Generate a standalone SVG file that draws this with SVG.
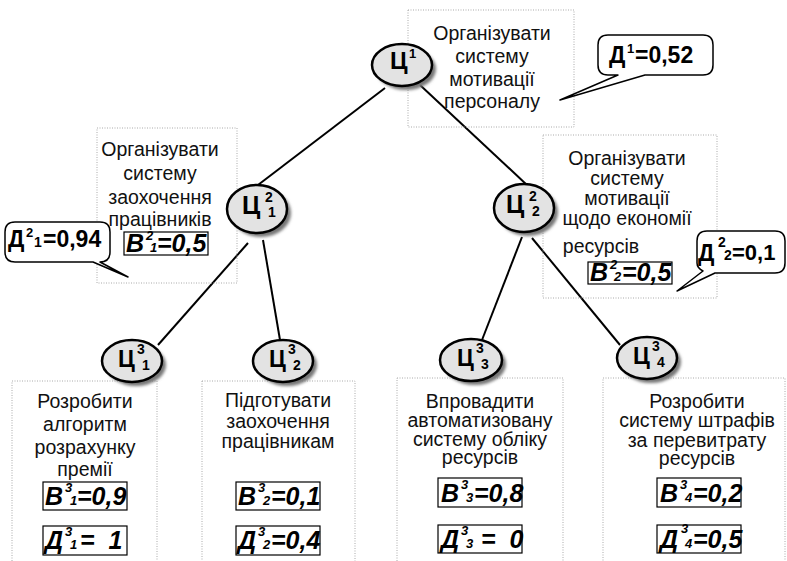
<svg xmlns="http://www.w3.org/2000/svg" width="787" height="561" viewBox="0 0 787 561">
<defs>
<filter id="sh" x="-30%" y="-30%" width="160%" height="160%"><feGaussianBlur stdDeviation="1.5"/></filter>
<style>
.box{fill:none;stroke:#aaa;stroke-width:1;stroke-dasharray:1 1.5}
.t{font-family:"Liberation Sans",Arial,sans-serif;font-size:19.5px;fill:#111;text-anchor:middle}
.el{fill:#e3e3e3;stroke:#000;stroke-width:2.5}
.shd{fill:#777;filter:url(#sh)}
.c{font-family:"Liberation Sans",Arial,sans-serif;font-weight:bold;fill:#000}
.v{font-family:"Liberation Sans",Arial,sans-serif;font-weight:bold;font-style:italic;font-size:25px;fill:#000}
.s{font-size:13px}
.vb{fill:none;stroke:#000;stroke-width:1.2}
.co{fill:#fff;stroke:#000;stroke-width:1.5;stroke-linejoin:round}
.ln{stroke:#000;stroke-width:2;fill:none}
</style>
</defs>
<rect width="787" height="561" fill="#fff"/>

<g id="connectors">
<line class="ln" x1="385" y1="88" x2="258" y2="185"/>
<line class="ln" x1="420" y1="85" x2="527" y2="185"/>
<line class="ln" x1="248" y1="243" x2="158" y2="345"/>
<line class="ln" x1="263" y1="240" x2="280" y2="340"/>
<line class="ln" x1="522" y1="237" x2="482" y2="340"/>
<line class="ln" x1="532" y1="238" x2="620" y2="345"/>
</g>

<g id="c1">
<rect class="box" x="408" y="10" width="166" height="117"/>
<text class="t" x="492" y="40">Організувати</text>
<text class="t" x="492" y="63">систему</text>
<text class="t" x="492" y="86">мотивації</text>
<text class="t" x="492" y="108">персоналу</text>
<ellipse class="shd" cx="406" cy="69" rx="30" ry="21"/>
<ellipse class="el" cx="402" cy="65" rx="30" ry="21"/>
<text class="c" font-size="24" x="390" y="69">Ц</text>
<text class="c" font-size="13" x="409" y="58">1</text>
<path class="co" d="M608,35 H703 Q713,35 713,45 V65 Q713,75 703,75 H645 L560,100 L618,75 H608 Q598,75 598,65 V45 Q598,35 608,35 Z"/>
<text class="c" font-size="23" x="609" y="63">Д</text>
<text class="c" font-size="13" x="627" y="53">1</text>
<text class="c" font-size="23" x="635" y="63">=0,52</text>
</g>

<g id="c2_1">
<rect class="box" x="97" y="128" width="140" height="155"/>
<text class="t" x="160" y="156">Організувати</text>
<text class="t" x="160" y="180">систему</text>
<text class="t" x="160" y="204">заохочення</text>
<text class="t" x="160" y="226">працівників</text>
<rect class="vb" x="124" y="232" width="84" height="23"/>
<text class="v" x="126" y="252">B</text>
<text class="v s" x="146" y="240">2</text>
<text class="v s" x="150" y="252">1</text>
<text class="v" x="157" y="252">=0,5</text>
<ellipse class="shd" cx="261" cy="213" rx="30" ry="24"/>
<ellipse class="el" cx="257" cy="209" rx="30" ry="24"/>
<text class="c" font-size="25" x="242" y="214">Ц</text>
<text class="c" font-size="14" x="265" y="202">2</text>
<text class="c" font-size="14" x="268" y="217">1</text>
<path class="co" d="M15,222 H100 Q110,222 110,232 V252 Q110,262 100,262 L128,277 L93,262 H15 Q5,262 5,252 V232 Q5,222 15,222 Z"/>
<text class="c" font-size="23" x="8" y="247">Д</text>
<text class="c" font-size="13" x="26" y="237">2</text>
<text class="c" font-size="14" font-weight="normal" x="34" y="247">1</text>
<text class="c" font-size="23" x="43" y="247">=0,94</text>
</g>

<g id="c2_2">
<rect class="box" x="543" y="135" width="174" height="163"/>
<text class="t" x="627" y="165">Організувати</text>
<text class="t" x="627" y="185">систему</text>
<text class="t" x="627" y="205">мотивації</text>
<text class="t" x="627" y="225">щодо економії</text>
<text class="t" x="601" y="253">ресурсів</text>
<rect class="vb" x="588" y="262" width="84" height="22"/>
<text class="v" x="590" y="281">B</text>
<text class="v s" x="610" y="269">2</text>
<text class="v s" x="614" y="281">2</text>
<text class="v" x="622" y="281">=0,5</text>
<ellipse class="shd" cx="528" cy="212" rx="30" ry="24"/>
<ellipse class="el" cx="524" cy="208" rx="30" ry="24"/>
<text class="c" font-size="25" x="506" y="213">Ц</text>
<text class="c" font-size="14" x="529" y="201">2</text>
<text class="c" font-size="14" x="532" y="216">2</text>
<path class="co" d="M707,231 H775 Q785,231 785,241 V263 Q785,273 775,273 H715 L677,291 L703,271 Q697,268 697,263 V241 Q697,231 707,231 Z"/>
<text class="c" font-size="23" x="698" y="261">Д</text>
<text class="c" font-size="14" x="718" y="247">2</text>
<text class="c" font-size="14" x="724" y="260">2</text>
<text class="c" font-size="22" x="732" y="260">=0,1</text>
</g>

<g id="c3_1">
<rect class="box" x="12" y="381" width="145" height="190"/>
<text class="t" x="85" y="408">Розробити</text>
<text class="t" x="85" y="431">алгоритм</text>
<text class="t" x="85" y="454">розрахунку</text>
<text class="t" x="85" y="476">премії</text>
<rect class="vb" x="43" y="482" width="84" height="28"/>
<text class="v" x="45" y="505">B</text>
<text class="v s" x="65" y="492">3</text>
<text class="v s" x="70" y="505">1</text>
<text class="v" x="77" y="505">=0,9</text>
<rect class="vb" x="43" y="526" width="84" height="29"/>
<text class="v" x="45" y="549">Д</text>
<text class="v s" x="65" y="536">3</text>
<text class="v s" x="70" y="549">1</text>
<text class="v" x="80" y="549" xml:space="preserve">=  1</text>
<ellipse class="shd" cx="136" cy="365" rx="30" ry="21"/>
<ellipse class="el" cx="132" cy="361" rx="30" ry="21"/>
<text class="c" font-size="23" x="118" y="367">Ц</text>
<text class="c" font-size="14" x="137" y="354">3</text>
<text class="c" font-size="14" x="142" y="370">1</text>
</g>

<g id="c3_2">
<rect class="box" x="202" y="381" width="153" height="190"/>
<text class="t" x="278" y="407">Підготувати</text>
<text class="t" x="278" y="428">заохочення</text>
<text class="t" x="278" y="448">працівникам</text>
<rect class="vb" x="236" y="482" width="84" height="28"/>
<text class="v" x="238" y="505">B</text>
<text class="v s" x="258" y="492">3</text>
<text class="v s" x="263" y="505">2</text>
<text class="v" x="271" y="505">=0,1</text>
<rect class="vb" x="236" y="526" width="84" height="29"/>
<text class="v" x="238" y="549">Д</text>
<text class="v s" x="258" y="536">3</text>
<text class="v s" x="263" y="549">2</text>
<text class="v" x="271" y="549">=0,4</text>
<ellipse class="shd" cx="287" cy="365" rx="30" ry="21"/>
<ellipse class="el" cx="283" cy="361" rx="30" ry="21"/>
<text class="c" font-size="23" x="269" y="367">Ц</text>
<text class="c" font-size="14" x="288" y="354">3</text>
<text class="c" font-size="14" x="293" y="370">2</text>
</g>

<g id="c3_3">
<rect class="box" x="397" y="378" width="166" height="193"/>
<text class="t" x="480" y="408">Впровадити</text>
<text class="t" x="480" y="427">автоматизовану</text>
<text class="t" x="480" y="446">систему обліку</text>
<text class="t" x="480" y="464">ресурсів</text>
<rect class="vb" x="438" y="478" width="84" height="29"/>
<text class="v" x="441" y="502">B</text>
<text class="v s" x="461" y="489">3</text>
<text class="v s" x="466" y="502">3</text>
<text class="v" x="474" y="502">=0,8</text>
<rect class="vb" x="438" y="525" width="84" height="28"/>
<text class="v" x="441" y="548">Д</text>
<text class="v s" x="461" y="535">3</text>
<text class="v s" x="466" y="548">3</text>
<text class="v" x="481" y="548" xml:space="preserve">=  0</text>
<ellipse class="shd" cx="475" cy="364" rx="31" ry="21"/>
<ellipse class="el" cx="471" cy="360" rx="31" ry="21"/>
<text class="c" font-size="23" x="457" y="366">Ц</text>
<text class="c" font-size="14" x="476" y="353">3</text>
<text class="c" font-size="14" x="481" y="369">3</text>
</g>

<g id="c3_4">
<rect class="box" x="603" y="378" width="182" height="193"/>
<text class="t" x="697" y="408">Розробити</text>
<text class="t" x="697" y="427">систему штрафів</text>
<text class="t" x="697" y="447">за перевитрату</text>
<text class="t" x="697" y="465">ресурсів</text>
<rect class="vb" x="657" y="478" width="84" height="29"/>
<text class="v" x="660" y="502">B</text>
<text class="v s" x="680" y="489">3</text>
<text class="v s" x="685" y="502">4</text>
<text class="v" x="693" y="502">=0,2</text>
<rect class="vb" x="657" y="525" width="84" height="28"/>
<text class="v" x="660" y="548">Д</text>
<text class="v s" x="681" y="533">3</text>
<text class="v s" x="685" y="548">4</text>
<text class="v" x="693" y="548">=0,5</text>
<ellipse class="shd" cx="651" cy="362" rx="30" ry="21"/>
<ellipse class="el" cx="647" cy="358" rx="30" ry="21"/>
<text class="c" font-size="23" x="633" y="364">Ц</text>
<text class="c" font-size="14" x="652" y="351">3</text>
<text class="c" font-size="14" x="657" y="367">4</text>
</g>
</svg>
